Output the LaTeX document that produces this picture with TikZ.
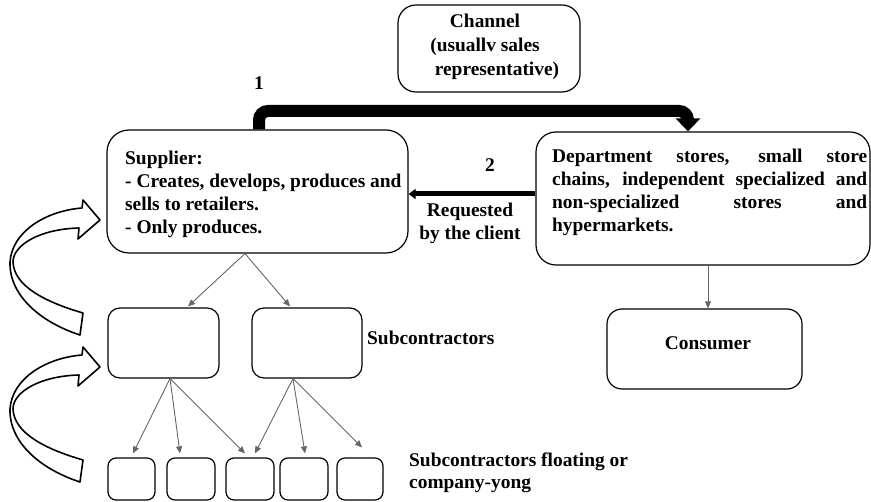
\documentclass[tikz,border=0pt]{standalone}
\usepackage{fontspec}
\setmainfont{Liberation Serif}
\usetikzlibrary{arrows.meta}
\tikzset{
  boxshape/.style={draw, line width=1.2pt, rounded corners=#1, inner sep=0pt},
  txt/.style={inner sep=0pt, font=\fontsize{19.4}{23}\selectfont\bfseries},
  thin/.style={draw=black!60, line width=0.9pt, -{Triangle[length=7pt,width=6pt]}},
  bentarrow/.pic={
    \draw[line width=1.6pt, fill=white, line join=round]
      (100,220) -- (83,200) -- (82,208)
      .. controls (45,211) and (12,232) .. (10,262)
      .. controls (9,295) and (40,322) .. (80,335)
      -- (83,313)
      .. controls (45,302) and (14,286) .. (13,262)
      .. controls (13,245) and (40,229) .. (79,228)
      -- (78,239) -- cycle;
  }
}
\begin{document}
\begin{tikzpicture}[x=1pt,y=-1pt]
\useasboundingbox (0,0) rectangle (871,502);
% boxes
\node[boxshape=18pt, minimum width=182pt, minimum height=87pt] (chan) at (489,48.5) {};
\node[boxshape=22pt, minimum width=301pt, minimum height=123pt] (supp) at (257.5,191.5) {};
\node[boxshape=20pt, minimum width=334pt, minimum height=133pt] (dept) at (703,198.5) {};
\node[boxshape=15pt, minimum width=195pt, minimum height=80pt] (cons) at (704.5,349) {};
\node[boxshape=12pt, minimum width=111pt, minimum height=70pt] (sub1) at (163.5,343) {};
\node[boxshape=12pt, minimum width=110pt, minimum height=70pt] (sub2) at (307,343) {};
\node[boxshape=8pt, minimum width=47pt, minimum height=42pt] (sm1) at (131.5,479) {};
\node[boxshape=8pt, minimum width=48pt, minimum height=42pt] (sm2) at (191,479) {};
\node[boxshape=8pt, minimum width=48pt, minimum height=42pt] (sm3) at (250,479) {};
\node[boxshape=8pt, minimum width=48pt, minimum height=42pt] (sm4) at (304,479) {};
\node[boxshape=8pt, minimum width=46pt, minimum height=42pt] (sm5) at (360,479) {};
% texts (base anchor = baseline of the last line)
\node[txt, align=center, anchor=base, font=\fontsize{19.4}{24}\selectfont\bfseries] (chtxt) at (485,76)
  {Channel\\(usuallv sales\\\hspace*{24pt}representative)};
\node[txt, align=left, anchor=base west] (supptxt) at (125,234)
  {Supplier:\\- Creates, develops, produces and\\sells to retailers.\\- Only produces.};
\node[txt, align=left, anchor=base west] (depttxt) at (552,232)
  {\makebox[315pt][s]{Department stores, small store}\\
   \makebox[315pt][s]{chains, independent specialized and}\\
   \makebox[315pt][s]{non-specialized stores and}\\
   hypermarkets.};
\node[txt, anchor=base] (constxt) at (708,350) {Consumer};
\node[txt, anchor=base] (one) at (259,89.5) {1};
\node[txt, anchor=base] (two) at (490,171.5) {2};
\node[txt, align=center] (req) at (470,223) {Requested\\by the client};
\node[txt, anchor=base west] (subl) at (367,344.5) {Subcontractors};
\node[txt, align=left, anchor=base west, font=\fontsize{19.4}{22}\selectfont\bfseries] (flt) at (409,489)
  {Subcontractors floating or\\company-yong};
% thick arrows
\draw[line width=12pt, rounded corners=9pt, -{Triangle[length=13pt,width=24pt]}]
  ([xshift=1.5pt]supp.north) -- (259,111) -- (688,111) -- ([xshift=-15pt]dept.north);
\coordinate (r2) at (0,194);
\draw[line width=5pt, -{Triangle[length=7pt,width=10pt]}] (dept.west |- r2) -- (supp.east |- r2);
% thin arrows
\coordinate (cx) at (708,0);
\draw[thin] (dept.south -| cx) -- (cons.north -| cx);
\draw[thin] ([xshift=-12.5pt]supp.south) -- ([xshift=24.5pt,yshift=1pt]sub1.north);
\draw[thin] ([xshift=-12.5pt]supp.south) -- ([xshift=-17pt,yshift=1pt]sub2.north);
\draw[thin] ([xshift=6.5pt]sub1.south) -- ([xshift=1.5pt,yshift=4pt]sm1.north);
\draw[thin] ([xshift=6.5pt]sub1.south) -- ([xshift=-11pt,yshift=4pt]sm2.north);
\draw[thin] ([xshift=6.5pt]sub1.south) -- ([xshift=-5pt,yshift=4pt]sm3.north);
\draw[thin] ([xshift=-14pt]sub2.south) -- ([xshift=5pt,yshift=4pt]sm3.north);
\draw[thin] ([xshift=-14pt]sub2.south) -- ([xshift=1pt,yshift=4pt]sm4.north);
\draw[thin] ([xshift=-14pt]sub2.south) -- ([xshift=2pt,yshift=10pt]sm5.north);
% bent block arrows
\pic at (0,0) {bentarrow};
\pic at (0,147) {bentarrow};
\end{tikzpicture}
\end{document}
